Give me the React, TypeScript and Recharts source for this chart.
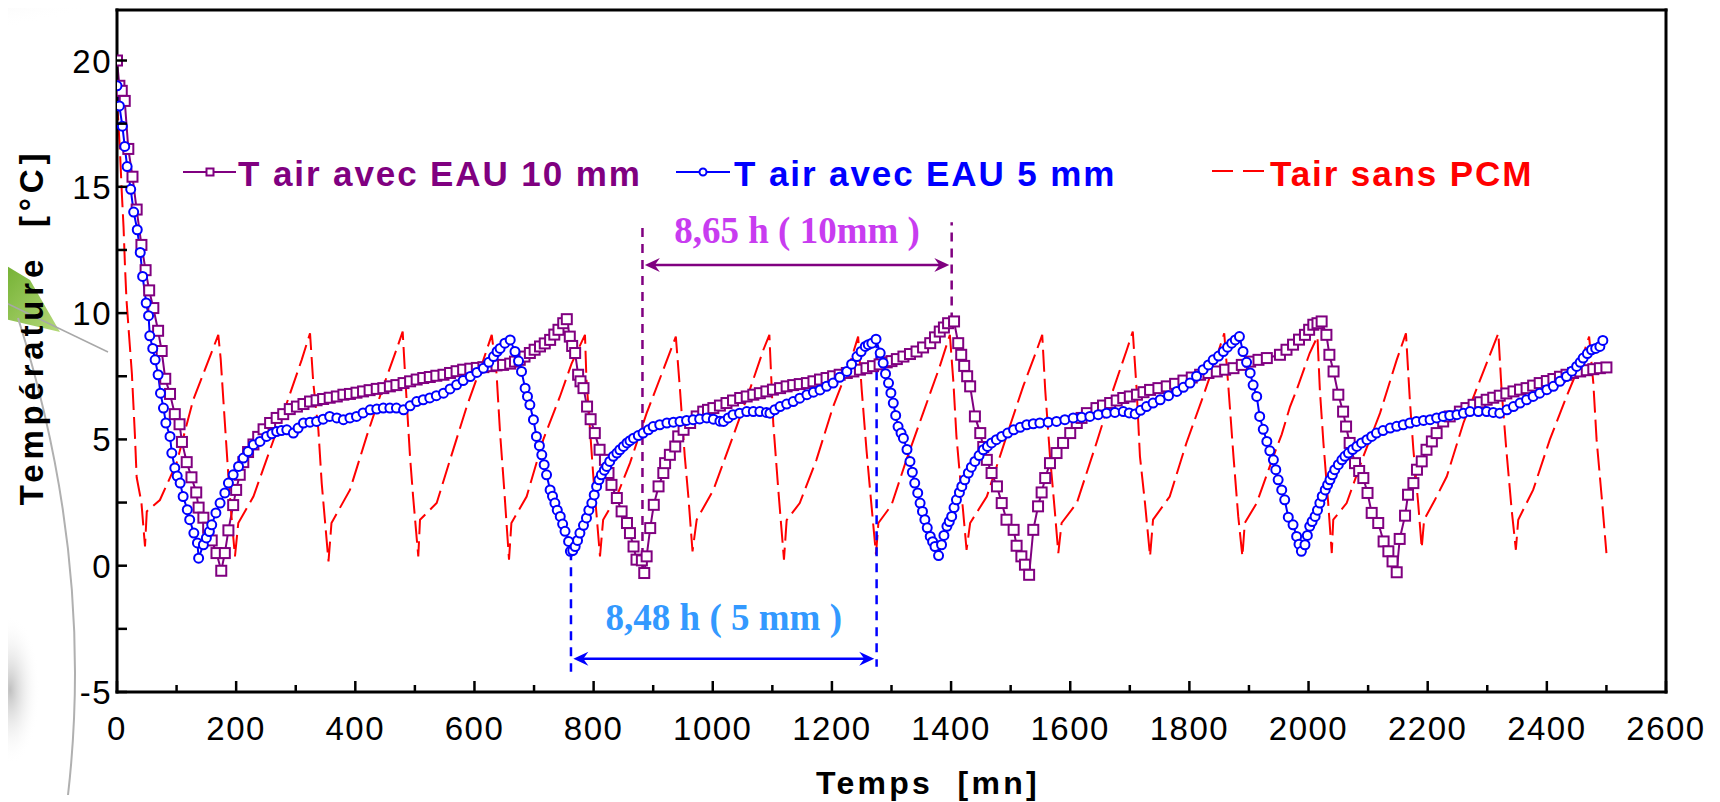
import React from 'react';
import { LineChart, Line, XAxis, YAxis, ReferenceLine, Legend, Customized } from 'recharts';

// [temps (mn), température (°C)]
const eau10mm: [number, number][] = [
  [0, 20.0], [4, 19.0], [8, 18.8], [13, 18.4], [19, 16.5], [26, 15.4], [33, 14.1], [41, 12.7], [48, 11.7], [54, 10.9],
  [61, 10.2], [69, 9.3], [75, 8.5], [81, 7.4], [89, 6.8], [97, 6.0], [105, 5.6], [109, 4.9], [117, 4.1], [125, 3.5],
  [133, 2.9], [137, 2.3], [145, 1.9], [153, 1.5], [159, 1.0], [167, 0.5], [175, -0.2], [181, 0.5], [187, 1.4], [195, 2.4],
  [200, 3.0], [206, 3.6], [212, 4.1], [220, 4.5], [229, 4.8], [237, 5.1], [246, 5.4], [257, 5.65], [268, 5.85], [279, 6.0],
  [290, 6.2], [302, 6.3], [313, 6.4], [324, 6.5], [335, 6.55], [346, 6.6], [357, 6.65], [369, 6.7], [380, 6.77], [391, 6.8],
  [402, 6.85], [413, 6.9], [424, 6.95], [436, 7.0], [447, 7.03], [458, 7.1], [469, 7.15], [481, 7.23], [492, 7.3], [503, 7.37],
  [514, 7.43], [525, 7.47], [536, 7.52], [548, 7.56], [559, 7.63], [570, 7.7], [581, 7.76], [593, 7.8], [604, 7.83], [615, 7.86],
  [626, 7.9], [637, 7.93], [648, 7.95], [660, 8.0], [668, 8.08], [676, 8.15], [684, 8.28], [693, 8.42], [701, 8.55], [710, 8.68],
  [718, 8.8], [727, 8.94], [734, 9.15], [741, 9.34], [749, 9.6], [755, 9.76], [760, 9.07], [764, 8.7], [769, 8.42], [774, 7.56],
  [778, 7.3], [783, 7.03], [789, 6.3], [795, 5.8], [802, 5.25], [810, 4.59], [819, 4.19], [825, 3.67], [830, 3.2], [839, 2.68],
  [847, 2.15], [856, 1.69], [861, 1.29], [867, 0.76], [872, 0.24], [881, 0.21], [885, -0.29], [889, 0.37], [895, 1.49], [901, 2.41],
  [909, 3.14], [917, 3.67], [920, 4.06], [928, 4.39], [937, 4.72], [942, 5.12], [951, 5.38], [962, 5.65], [973, 5.91], [984, 6.1],
  [992, 6.17], [1001, 6.24], [1012, 6.34], [1023, 6.44], [1034, 6.54], [1046, 6.64], [1057, 6.7], [1068, 6.77], [1079, 6.83], [1090, 6.9],
  [1101, 6.97], [1113, 7.03], [1124, 7.1], [1135, 7.15], [1146, 7.19], [1158, 7.23], [1169, 7.3], [1180, 7.37], [1191, 7.43], [1202, 7.5],
  [1213, 7.56], [1225, 7.63], [1236, 7.69], [1247, 7.76], [1258, 7.82], [1269, 7.9], [1280, 7.97], [1292, 8.05], [1300, 8.1], [1309, 8.18],
  [1320, 8.28], [1331, 8.38], [1342, 8.48], [1353, 8.64], [1365, 8.81], [1373, 9.04], [1381, 9.27], [1388, 9.43], [1395, 9.6], [1405, 9.67],
  [1412, 8.81], [1417, 8.35], [1422, 7.91], [1427, 7.5], [1432, 7.1], [1440, 5.91], [1449, 5.25], [1454, 4.7], [1460, 4.19], [1468, 3.67],
  [1477, 3.14], [1485, 2.48], [1493, 1.82], [1505, 1.42], [1510, 0.79], [1518, 0.37], [1524, 0.04], [1531, -0.36], [1538, 1.42], [1546, 2.35],
  [1552, 2.9], [1558, 3.47], [1566, 4.06], [1577, 4.46], [1588, 4.86], [1600, 5.25], [1611, 5.65], [1619, 5.85], [1628, 6.04], [1644, 6.24],
  [1655, 6.34], [1667, 6.44], [1678, 6.54], [1689, 6.64], [1700, 6.7], [1712, 6.77], [1723, 6.87], [1734, 6.96], [1748, 7.03], [1762, 7.1],
  [1776, 7.2], [1790, 7.33], [1804, 7.45], [1818, 7.56], [1832, 7.63], [1846, 7.69], [1860, 7.76], [1874, 7.82], [1888, 7.95], [1902, 8.08],
  [1916, 8.15], [1930, 8.22], [1952, 8.35], [1963, 8.55], [1974, 8.75], [1984, 8.95], [1994, 9.14], [2001, 9.34], [2008, 9.54], [2015, 9.6],
  [2022, 9.67], [2030, 9.14], [2035, 8.35], [2042, 7.69], [2050, 6.77], [2058, 6.1], [2063, 5.51], [2069, 4.86], [2078, 4.06], [2085, 3.75],
  [2092, 3.47], [2099, 2.88], [2106, 2.09], [2117, 1.69], [2126, 0.96], [2134, 0.57], [2141, 0.17], [2148, -0.26], [2153, 1.06], [2162, 1.98],
  [2167, 2.81], [2176, 3.27], [2182, 3.8], [2190, 4.13], [2198, 4.59], [2207, 4.92], [2215, 5.25], [2226, 5.71], [2237, 5.91], [2254, 6.1],
  [2265, 6.24], [2277, 6.37], [2288, 6.47], [2299, 6.57], [2310, 6.65], [2321, 6.73], [2332, 6.82], [2344, 6.9], [2355, 6.97], [2366, 7.03],
  [2377, 7.13], [2388, 7.23], [2400, 7.31], [2411, 7.39], [2422, 7.48], [2433, 7.56], [2444, 7.63], [2456, 7.69], [2467, 7.74], [2478, 7.78],
  [2489, 7.82], [2500, 7.85],
];

const eau5mm: [number, number][] = [
  [0, 19.0], [4, 18.2], [9, 17.4], [13, 16.6], [17, 15.8], [23, 14.9], [28, 14.0], [34, 13.3], [39, 12.4], [43, 11.45],
  [49, 10.4], [53, 9.9], [55, 9.1], [60, 8.6], [64, 8.15], [69, 7.56], [73, 6.83], [78, 6.24], [82, 5.65], [89, 5.12],
  [92, 4.46], [97, 3.87], [101, 3.55], [106, 3.27], [111, 2.74], [118, 2.22], [122, 1.82], [129, 1.29], [135, 0.9], [137, 0.3],
  [145, 0.83], [150, 1.1], [155, 1.35], [159, 1.62], [166, 2.09], [173, 2.48], [181, 2.88], [187, 3.27], [195, 3.6], [204, 3.93],
  [212, 4.26], [220, 4.52], [229, 4.79], [240, 4.92], [251, 5.12], [260, 5.22], [268, 5.31], [276, 5.35], [285, 5.38], [296, 5.25],
  [304, 5.45], [313, 5.65], [324, 5.68], [335, 5.71], [346, 5.8], [357, 5.91], [369, 5.85], [380, 5.78], [391, 5.85], [402, 5.91],
  [413, 6.05], [425, 6.17], [436, 6.2], [447, 6.24], [458, 6.24], [469, 6.24], [481, 6.17], [492, 6.33], [503, 6.5], [514, 6.57],
  [525, 6.64], [536, 6.73], [548, 6.83], [559, 7.0], [570, 7.16], [581, 7.33], [593, 7.49], [604, 7.65], [615, 7.82], [624, 8.05],
  [632, 8.28], [638, 8.48], [643, 8.6], [651, 8.81], [660, 8.94], [668, 8.48], [674, 8.1], [679, 7.69], [685, 7.03], [689, 6.7],
  [693, 6.37], [699, 5.78], [704, 5.12], [709, 4.75], [713, 4.39], [717, 4.0], [721, 3.6], [727, 3.0], [731, 2.75], [735, 2.48],
  [739, 2.2], [744, 1.95], [748, 1.65], [752, 1.36], [758, 0.96], [761, 0.57], [765, 0.6], [769, 0.76], [773, 1.0], [777, 1.29],
  [783, 1.6], [788, 1.89], [792, 2.2], [797, 2.48], [801, 2.8], [805, 3.14], [809, 3.4], [813, 3.6], [818, 3.78], [822, 3.93],
  [827, 4.13], [833, 4.33], [839, 4.46], [844, 4.59], [850, 4.72], [856, 4.86], [861, 4.95], [867, 5.05], [875, 5.15], [883, 5.25],
  [892, 5.38], [900, 5.51], [911, 5.58], [923, 5.65], [934, 5.68], [945, 5.71], [956, 5.75], [967, 5.78], [978, 5.81], [990, 5.85],
  [1001, 5.8], [1012, 5.72], [1018, 5.71], [1026, 5.85], [1034, 5.98], [1045, 6.04], [1057, 6.1], [1068, 6.1], [1079, 6.1], [1090, 6.07],
  [1096, 6.04], [1104, 6.17], [1113, 6.3], [1124, 6.4], [1135, 6.5], [1146, 6.63], [1158, 6.77], [1169, 6.87], [1180, 6.96], [1191, 7.1],
  [1202, 7.23], [1213, 7.46], [1225, 7.69], [1233, 7.98], [1242, 8.28], [1249, 8.48], [1256, 8.68], [1261, 8.75], [1267, 8.81], [1274, 8.97],
  [1281, 8.42], [1286, 8.02], [1290, 7.6], [1295, 7.23], [1299, 6.84], [1303, 6.44], [1307, 5.95], [1311, 5.51], [1316, 5.25], [1320, 5.05],
  [1326, 4.6], [1331, 4.13], [1335, 3.7], [1339, 3.27], [1344, 2.88], [1348, 2.48], [1352, 2.15], [1356, 1.82], [1360, 1.5], [1365, 1.16],
  [1369, 0.95], [1373, 0.76], [1379, 0.4], [1384, 0.83], [1388, 1.2], [1393, 1.56], [1397, 1.75], [1401, 1.95], [1405, 2.3], [1409, 2.61],
  [1414, 2.9], [1418, 3.14], [1423, 3.4], [1429, 3.67], [1434, 3.9], [1440, 4.13], [1447, 4.36], [1454, 4.59], [1461, 4.72], [1468, 4.86],
  [1476, 4.99], [1485, 5.12], [1495, 5.25], [1505, 5.38], [1516, 5.48], [1527, 5.58], [1538, 5.62], [1549, 5.65], [1563, 5.68], [1577, 5.71],
  [1591, 5.78], [1605, 5.85], [1619, 5.88], [1633, 5.91], [1647, 5.98], [1661, 6.04], [1675, 6.07], [1689, 6.1], [1699, 6.05], [1709, 6.01],
  [1718, 6.15], [1728, 6.3], [1739, 6.44], [1751, 6.57], [1765, 6.73], [1779, 6.9], [1790, 7.06], [1801, 7.23], [1812, 7.5], [1823, 7.76],
  [1832, 7.95], [1840, 8.15], [1849, 8.3], [1857, 8.48], [1864, 8.65], [1871, 8.81], [1877, 8.94], [1884, 9.07], [1890, 8.48], [1896, 8.05],
  [1902, 7.63], [1907, 7.15], [1913, 6.7], [1918, 5.91], [1924, 5.4], [1930, 4.92], [1935, 4.55], [1941, 4.19], [1945, 3.8], [1949, 3.4],
  [1955, 3.0], [1960, 2.61], [1966, 1.92], [1974, 1.62], [1980, 1.16], [1984, 0.85], [1988, 0.57], [1994, 0.83], [1998, 1.2], [2002, 1.56],
  [2006, 1.75], [2011, 1.95], [2015, 2.2], [2019, 2.48], [2023, 2.75], [2028, 3.0], [2032, 3.2], [2036, 3.4], [2040, 3.6], [2044, 3.8],
  [2050, 4.0], [2056, 4.19], [2061, 4.33], [2067, 4.46], [2074, 4.6], [2081, 4.72], [2089, 4.86], [2098, 4.99], [2106, 5.12], [2114, 5.25],
  [2125, 5.35], [2137, 5.45], [2148, 5.52], [2159, 5.58], [2170, 5.65], [2181, 5.71], [2193, 5.75], [2204, 5.78], [2215, 5.85], [2226, 5.91],
  [2237, 5.95], [2249, 5.98], [2260, 6.04], [2271, 6.1], [2285, 6.1], [2299, 6.1], [2310, 6.07], [2321, 6.04], [2333, 6.17], [2344, 6.3],
  [2355, 6.44], [2366, 6.57], [2377, 6.7], [2388, 6.83], [2400, 6.97], [2411, 7.1], [2422, 7.3], [2433, 7.49], [2442, 7.7], [2450, 7.89],
  [2456, 8.05], [2461, 8.22], [2468, 8.4], [2475, 8.55], [2482, 8.6], [2489, 8.68], [2494, 8.92],
];

const sansPcm: [number, number][] = [
  [0, 18.5], [5, 16.4], [8, 14.8], [11, 13.4], [13.5, 11.8], [16, 10.5], [20, 9.2], [25, 7.6], [30, 5.2], [33, 3.5],
  [41, 2.5], [47, 0.76], [50, 2.15], [72, 2.6], [100, 4.06], [128, 6.57], [156, 8.28], [170, 9.14], [174, 8.2], [178.5, 6.57],
  [187, 3.53], [192, 2.0], [198, 0.37], [203.6, 1.69], [229, 2.74], [257, 4.6], [285, 6.44], [310, 8.15], [324, 9.2], [329.5, 7.23],
  [338, 5.38], [343.6, 3.27], [349, 1.8], [355, 0.17], [360, 1.69], [391, 3.0], [419, 5.12], [447, 7.1], [469, 8.55], [479.5, 9.27],
  [483.4, 7.63], [491.8, 4.33], [497, 2.74], [505.7, 0.37], [508.6, 1.82], [536.6, 2.48], [559, 4.19], [587, 6.3], [615, 8.15], [629, 9.14],
  [637, 7.63], [643, 5.25], [650, 3.0], [658, 0.24], [662, 1.69], [687.6, 2.74], [715.5, 4.99], [743.5, 6.7], [763, 8.0], [785.5, 9.14],
  [788, 7.36], [794, 5.38], [799.5, 3.53], [805, 2.0], [810.7, 0.37], [816, 1.82], [838.7, 2.74], [861, 4.06], [889, 6.04], [917, 7.76],
  [938, 9.07], [945, 6.96], [953, 4.33], [959, 2.74], [966, 0.57], [973, 1.82], [1001, 3.0], [1034, 5.12], [1062, 6.96], [1085, 8.55],
  [1095, 9.14], [1101.5, 5.65], [1110, 3.0], [1119.5, 0.24], [1124, 1.8], [1146, 2.48], [1174, 4.19], [1202, 6.3], [1230, 8.0], [1244, 9.07],
  [1250, 6.96], [1258, 4.59], [1264, 3.0], [1274, 0.44], [1278, 1.69], [1300, 2.4], [1325, 4.19], [1353, 6.04], [1381, 7.89], [1398, 9.14],
  [1404, 7.23], [1409, 5.12], [1415, 3.53], [1426, 0.63], [1432, 1.69], [1460, 2.74], [1493, 5.12], [1521, 7.1], [1544, 8.55], [1553, 9.14],
  [1558, 6.96], [1566, 4.33], [1574, 2.2], [1580, 0.5], [1585.5, 1.69], [1611, 2.48], [1644, 4.86], [1672, 6.96], [1695, 8.55], [1705, 9.27],
  [1711.5, 6.96], [1717, 4.33], [1725.5, 2.48], [1734, 0.37], [1739, 1.82], [1767, 2.74], [1795, 4.86], [1823, 6.7], [1846, 8.28], [1858.5, 9.2],
  [1865, 7.23], [1874, 4.33], [1882, 1.95], [1889, 0.37], [1893, 1.69], [1913, 2.48], [1941, 4.33], [1955, 5.2], [1969, 6.3], [1980, 6.96],
  [2002, 8.42], [2015, 9.07], [2019, 6.96], [2025, 4.86], [2033, 2.48], [2039, 0.5], [2041.5, 1.82], [2064, 2.48], [2092, 4.33], [2120, 6.04],
  [2148, 8.15], [2163.5, 9.2], [2170, 6.57], [2176, 4.59], [2184, 2.48], [2190, 0.7], [2194, 1.82], [2212, 2.6], [2232, 3.53], [2260, 5.65],
  [2288, 7.36], [2310, 8.68], [2318.6, 9.2], [2324, 6.96], [2332, 4.59], [2341, 2.2], [2348, 0.63], [2352, 1.82], [2377, 3.0], [2405, 4.99],
  [2433, 6.7], [2456, 8.0], [2471, 9.07], [2478, 7.23], [2483.5, 4.99], [2492, 2.74], [2500, 0.5],
];

const xTicks = [0, 100, 200, 300, 400, 500, 600, 700, 800, 900, 1000, 1100, 1200, 1300, 1400, 1500, 1600, 1700, 1800, 1900, 2000, 2100, 2200, 2300, 2400, 2500, 2600];
const yTicks = [-5, -2.5, 0, 2.5, 5, 7.5, 10, 12.5, 15, 17.5, 20];

// durées de déphasage marquées sur la figure
const dephasage10 = { start: 882, end: 1401, minT: -0.29, peakT: 9.67, top: 13.6, arrowY: 11.9, label: '8,65 h ( 10mm )' };
const dephasage5 = { start: 762, end: 1275, minT: 0.57, peakT: 8.97, bottomL: -4.2, bottomR: -4.0, arrowY: -3.68, label: '8,48 h ( 5 mm )' };

const PURPLE = '#800080';
const BLUE = '#0000ff';
const RED = '#ff0000';
const SANS = '"Liberation Sans", Arial, sans-serif';
const SERIF = '"Liberation Serif", "Times New Roman", serif';

const toPoints = (rows: [number, number][]) => rows.map(([t, v]) => ({ t, v }));

const tickText = { fontFamily: SANS, fontSize: 33, letterSpacing: 1.5, fill: '#000' };

const BottomTick = ({ x, y, payload }: any) => {
  const major = payload.value % 200 === 0;
  return (
    <g>
      <line x1={x} x2={x} y1={y} y2={y - (major ? 11 : 7)} stroke="#000" strokeWidth={2.5} />
      {major && (
        <text x={x} y={y + 48} textAnchor="middle" style={tickText}>
          {payload.value}
        </text>
      )}
    </g>
  );
};

const TopTick = ({ x, y, payload }: any) => {
  const major = payload.value % 200 === 0;
  return <line x1={x} x2={x} y1={y} y2={y + (major ? 11 : 7)} stroke="#000" strokeWidth={2.5} />;
};

const LeftTick = ({ x, y, payload }: any) => {
  const major = payload.value % 5 === 0;
  return (
    <g>
      <line x1={x} x2={x + 10} y1={y} y2={y} stroke="#000" strokeWidth={2.5} />
      {major && (
        <text x={x - 5} y={y + 12} textAnchor="end" style={tickText}>
          {payload.value}
        </text>
      )}
    </g>
  );
};

const RightTick = ({ x, y }: any) => <line x1={x} x2={x - 10} y1={y} y2={y} stroke="#000" strokeWidth={2.5} />;

const SquareDot = (props: any) => {
  const { cx, cy, index } = props;
  if (cx == null || cy == null) return <g key={index} />;
  return <rect key={index} x={cx - 5} y={cy - 5} width={10} height={10} fill="#fff" stroke={PURPLE} strokeWidth={2} />;
};

const CircleDot = (props: any) => {
  const { cx, cy, index } = props;
  if (cx == null || cy == null) return <g key={index} />;
  return <circle key={index} cx={cx} cy={cy} r={4.5} fill="#fff" stroke={BLUE} strokeWidth={2} />;
};

const arrowShape = (color: string) => (props: any) => {
  const { x1, x2, y1 } = props;
  const left = Math.min(x1, x2);
  const right = Math.max(x1, x2);
  const y = y1;
  return (
    <g>
      <line x1={left + 6} x2={right - 6} y1={y} y2={y} stroke={color} strokeWidth={2.5} />
      <path d={`M${left},${y} L${left + 15},${y - 7} L${left + 10},${y} L${left + 15},${y + 7} Z`} fill={color} />
      <path d={`M${right},${y} L${right - 15},${y - 7} L${right - 10},${y} L${right - 15},${y + 7} Z`} fill={color} />
    </g>
  );
};

const LegendBox = () => (
  <svg width={1720} height={200} style={{ position: 'absolute', left: 0, top: 0, overflow: 'visible', pointerEvents: 'none' }}>
    <g style={{ fontFamily: SANS, fontSize: 35, fontWeight: 'bold', letterSpacing: 1.9 }}>
      <line x1={183} x2={236} y1={172} y2={172} stroke={PURPLE} strokeWidth={2} />
      <rect x={206.5} y={168.5} width={7} height={7} fill="#fff" stroke={PURPLE} strokeWidth={2} />
      <text x={238} y={186} fill={PURPLE}>T air avec EAU 10 mm</text>

      <line x1={676} x2={730} y1={172} y2={172} stroke={BLUE} strokeWidth={2} />
      <circle cx={703} cy={172} r={3.5} fill="#fff" stroke={BLUE} strokeWidth={2} />
      <text x={734} y={186} fill={BLUE}>T air avec EAU 5 mm</text>

      <line x1={1212} x2={1264} y1={171} y2={171} stroke={RED} strokeWidth={2} strokeDasharray="21 10" />
      <text x={1270} y={186} fill={RED}>Tair sans PCM</text>
    </g>
  </svg>
);

const Titles = () => (
  <g style={{ fontFamily: SANS, fontWeight: 'bold', fill: '#000' }}>
    <text x={928} y={794} textAnchor="middle" style={{ fontSize: 32, letterSpacing: 3.3, whiteSpace: 'pre' }}>
      Temps  [mn]
    </text>
    <text transform="translate(43,327) rotate(-90)" textAnchor="middle" style={{ fontSize: 33, letterSpacing: 4.8, whiteSpace: 'pre' }}>
      Température  [°C]
    </text>
  </g>
);

// slide background decoration behind the chart
const Backdrop = () => (
  <svg width={1720} height={802} style={{ position: 'absolute', left: 0, top: 0 }}>
    <defs>
      <radialGradient id="cornerShade" cx="0" cy="0" r="1">
        <stop offset="0" stopColor="#9a9a9a" stopOpacity={0.8} />
        <stop offset="1" stopColor="#ffffff" stopOpacity={0} />
      </radialGradient>
      <linearGradient id="leaf" x1="0" y1="0" x2="1" y2="1">
        <stop offset="0" stopColor="#6fae2e" />
        <stop offset="1" stopColor="#b5d97a" />
      </linearGradient>
      <radialGradient id="blob" cx="0.5" cy="0.5" r="0.5">
        <stop offset="0" stopColor="#8c8c8c" stopOpacity={0.55} />
        <stop offset="1" stopColor="#ffffff" stopOpacity={0} />
      </radialGradient>
    </defs>
    <ellipse cx={0} cy={0} rx={150} ry={40} fill="url(#cornerShade)" />
    <path d="M0,262 L30,280 L60,332 L0,318 Z" fill="url(#leaf)" />
    <line x1={0} y1={300} x2={108} y2={352} stroke="#a8a8a8" strokeWidth={1.5} />
    <path d="M18,318 Q95,560 68,795" fill="none" stroke="#b0b0b0" strokeWidth={2} />
    <ellipse cx={10} cy={690} rx={30} ry={75} fill="url(#blob)" />
  </svg>
);

const App = () => {
  const axisLine = { stroke: '#000', strokeWidth: 3, strokeLinecap: 'square' as const };
  return (
    <div style={{ marginLeft: -8, marginTop: -8, width: 1720, height: 802, background: '#fff', position: 'relative' }}>
      <Backdrop />
      <div style={{ position: 'absolute', left: 0, top: 0 }}>
        <LineChart width={1720} height={802} margin={{ top: 9, right: 53, bottom: 109, left: 116 }}>
          <XAxis
            xAxisId={0}
            type="number"
            dataKey="t"
            domain={[0, 2600]}
            ticks={xTicks}
            interval={0}
            height={1}
            tickLine={false}
            tickSize={0}
            tickMargin={0}
            tick={<BottomTick />}
            axisLine={axisLine}
            allowDataOverflow
          />
          <XAxis
            xAxisId="top"
            orientation="top"
            type="number"
            dataKey="t"
            domain={[0, 2600]}
            ticks={xTicks}
            interval={0}
            height={1}
            tickLine={false}
            tickSize={0}
            tickMargin={0}
            tick={<TopTick />}
            axisLine={axisLine}
          />
          <YAxis
            yAxisId={0}
            type="number"
            domain={[-5, 22]}
            ticks={yTicks}
            interval={0}
            width={1}
            tickLine={false}
            tickSize={0}
            tickMargin={0}
            tick={<LeftTick />}
            axisLine={axisLine}
            allowDataOverflow
          />
          <YAxis
            yAxisId="right"
            orientation="right"
            type="number"
            domain={[-5, 22]}
            ticks={yTicks}
            interval={0}
            width={1}
            tickLine={false}
            tickSize={0}
            tickMargin={0}
            tick={<RightTick />}
            axisLine={axisLine}
          />

          <Line
            data={toPoints(eau10mm)}
            dataKey="v"
            name="T air avec EAU 10 mm"
            stroke={PURPLE}
            strokeWidth={2}
            dot={SquareDot}
            activeDot={false}
            isAnimationActive={false}
          />
          <Line
            data={toPoints(eau5mm)}
            dataKey="v"
            name="T air avec EAU 5 mm"
            stroke={BLUE}
            strokeWidth={2}
            dot={CircleDot}
            activeDot={false}
            isAnimationActive={false}
          />
          <Line
            data={toPoints(sansPcm)}
            dataKey="v"
            name="Tair sans PCM"
            stroke={RED}
            strokeWidth={2}
            strokeDasharray="22 7"
            dot={false}
            activeDot={false}
            isAnimationActive={false}
          />

          <ReferenceLine
            segment={[{ x: dephasage10.start, y: dephasage10.minT }, { x: dephasage10.start, y: dephasage10.top }]}
            stroke={PURPLE}
            strokeWidth={2.5}
            strokeDasharray="9 7"
          />
          <ReferenceLine
            segment={[{ x: dephasage10.end, y: dephasage10.peakT }, { x: dephasage10.end, y: dephasage10.top }]}
            stroke={PURPLE}
            strokeWidth={2.5}
            strokeDasharray="9 7"
          />
          <ReferenceLine
            segment={[{ x: dephasage10.start + 4, y: dephasage10.arrowY }, { x: dephasage10.end - 4, y: dephasage10.arrowY }]}
            stroke={PURPLE}
            shape={arrowShape(PURPLE)}
            label={{ value: dephasage10.label, position: 'top', offset: 22, fill: '#c83cf0', fontSize: 37, fontWeight: 'bold', fontFamily: SERIF }}
          />
          <ReferenceLine
            segment={[{ x: dephasage5.start, y: dephasage5.minT }, { x: dephasage5.start, y: dephasage5.bottomL }]}
            stroke={BLUE}
            strokeWidth={2.5}
            strokeDasharray="9 7"
          />
          <ReferenceLine
            segment={[{ x: dephasage5.end, y: dephasage5.peakT }, { x: dephasage5.end, y: dephasage5.bottomR }]}
            stroke={BLUE}
            strokeWidth={2.5}
            strokeDasharray="9 7"
          />
          <ReferenceLine
            segment={[{ x: dephasage5.start + 4, y: dephasage5.arrowY }, { x: dephasage5.end - 4, y: dephasage5.arrowY }]}
            stroke={BLUE}
            shape={arrowShape(BLUE)}
            label={{ value: dephasage5.label, position: 'top', offset: 29, fill: '#3399ff', fontSize: 37, fontWeight: 'bold', fontFamily: SERIF }}
          />

          <Legend content={<LegendBox />} wrapperStyle={{ left: 0, top: 0, width: 0, height: 0 }} />
          <Customized component={Titles} />
        </LineChart>
      </div>
    </div>
  );
};

export default App;
